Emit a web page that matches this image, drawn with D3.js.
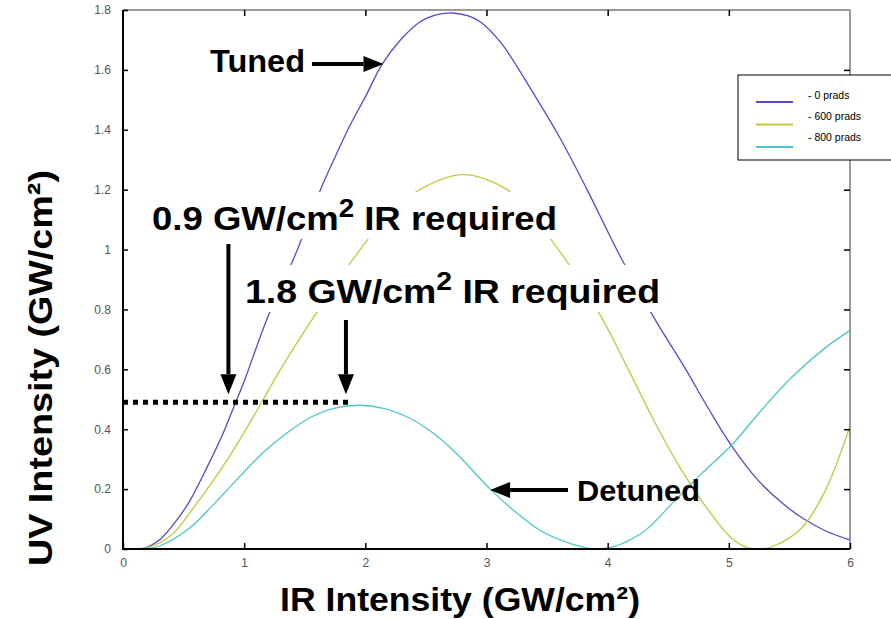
<html>
<head>
<meta charset="utf-8">
<script src="https://d3js.org/d3.v7.min.js"></script>
<style>
  body { margin: 0; background: #fff; font-family: "Liberation Sans", Arial, sans-serif; }
  .tick text { font-size: 12px; fill: #555; font-family: "Liberation Sans", Arial, sans-serif; }
  .tick line { stroke: #000; stroke-width: 1.5px; }
  .curve { fill: none; stroke-width: 1.3px; }
  .note { font-weight: bold; fill: #000; font-family: "Liberation Sans", Arial, sans-serif; }
</style>
</head>
<body>
<script>
// series: [IR intensity, UV intensity]
var prads0 = [[0,0],[0.15,0],[0.3,0.03],[0.45,0.1],[0.55,0.16],[0.69,0.27],[0.83,0.39],[0.91,0.47],
  [1.0,0.56],[1.19,0.77],[1.44,1.0],[1.63,1.2],[1.74,1.3],[1.88,1.42],[2.0,1.51],[2.14,1.62],
  [2.29,1.7],[2.45,1.76],[2.6,1.785],[2.72,1.79],[2.85,1.78],[2.95,1.76],[3.12,1.69],[3.39,1.52],[3.61,1.37],
  [3.83,1.2],[4.1,0.98],[4.4,0.76],[4.63,0.61],[4.83,0.47],[5.03,0.34],[5.24,0.23],[5.45,0.15],
  [5.62,0.1],[5.8,0.06],[6.0,0.03]];
var prads600 = [[0,0],[0.15,0],[0.3,0.02],[0.41,0.05],[0.55,0.12],[0.88,0.31],[1.13,0.48],[1.3,0.6],
  [1.55,0.76],[1.92,0.98],[2.2,1.12],[2.45,1.2],[2.8,1.25],[3.17,1.2],[3.4,1.1],[3.63,0.98],
  [3.94,0.78],[4.17,0.6],[4.38,0.43],[4.6,0.27],[4.83,0.13],[5.04,0.03],[5.2,0],[5.37,0.01],
  [5.6,0.07],[5.79,0.19],[6.0,0.41]];
var prads800 = [[0,0],[0.15,0],[0.3,0.01],[0.55,0.07],[0.75,0.15],[0.97,0.245],[1.15,0.32],[1.36,0.39],
  [1.55,0.44],[1.74,0.47],[1.95,0.48],[2.15,0.47],[2.35,0.44],[2.55,0.39],[2.75,0.32],[3.03,0.2],
  [3.25,0.12],[3.45,0.06],[3.72,0.015],[3.95,0],[4.27,0.05],[4.55,0.16],[4.77,0.25],
  [5.03,0.35],[5.24,0.45],[5.51,0.57],[5.79,0.67],[6.0,0.73]];

var seriesData = [prads0, prads600, prads800];
var legendLabels = ["- 0 prads", "- 600 prads", "- 800 prads"];
var colors = ["#5a48d0", "#c4c83c", "#4cc8c8"];
var xTicks = [0, 1, 2, 3, 4, 5, 6];
var yTicks = [0, 0.2, 0.4, 0.6, 0.8, 1, 1.2, 1.4, 1.6, 1.8];
var yTickLabels = ["0", "0.2", "0.4", "0.6", "0.8", "1", "1.2", "1.4", "1.6", "1.8"];

var svg = d3.select("body").append("svg")
  .attr("width", 891)
  .attr("height", 619);

var x = d3.scaleLinear().domain([0, 6]).range([123, 850]);
var y = d3.scaleLinear().domain([0, 1.8]).range([549, 10]);

svg.append("clipPath").attr("id", "plot")
  .append("rect").attr("x", x(0)).attr("y", y(1.8))
  .attr("width", x(6) - x(0)).attr("height", y(0) - y(1.8));

var line = d3.line()
  .x(function(d) { return x(d[0]); })
  .y(function(d) { return y(d[1]); })
  .curve(d3.curveCatmullRom.alpha(0.5));

svg.append("g").attr("clip-path", "url(#plot)")
  .selectAll(".curve")
  .data(seriesData)
  .enter().append("path")
  .attr("class", "curve")
  .attr("d", line)
  .style("stroke", function(d, i) { return colors[i]; });

// frame: grey top/right, black left/bottom
svg.append("line").attr("x1", x(0)).attr("x2", x(6)).attr("y1", y(1.8)).attr("y2", y(1.8))
  .attr("stroke", "#999").attr("stroke-width", 2);
svg.append("line").attr("x1", x(6)).attr("x2", x(6)).attr("y1", y(1.8)).attr("y2", y(0))
  .attr("stroke", "#999").attr("stroke-width", 2);

svg.append("g")
  .attr("transform", "translate(0," + y(0) + ")")
  .call(d3.axisBottom(x).tickValues(xTicks).tickSize(-6).tickPadding(9).tickFormat(d3.format("d")))
  .call(function(g) { g.select(".domain").remove(); });
svg.append("g")
  .attr("transform", "translate(0," + y(1.8) + ")")
  .call(d3.axisTop(x).tickValues(xTicks.slice(1, 6)).tickSize(-6).tickFormat(""))
  .call(function(g) { g.select(".domain").remove(); });
svg.append("g")
  .attr("transform", "translate(" + x(0) + ",0)")
  .call(d3.axisLeft(y).tickValues(yTicks).tickSize(-5).tickPadding(12)
    .tickFormat(function(d, i) { return yTickLabels[i]; }))
  .call(function(g) { g.select(".domain").remove(); });
svg.append("g")
  .attr("transform", "translate(" + x(6) + ",0)")
  .call(d3.axisRight(y).tickValues(yTicks.slice(1, 9)).tickSize(-6).tickFormat(""))
  .call(function(g) { g.select(".domain").remove(); });

svg.append("line").attr("x1", x(0)).attr("x2", x(0)).attr("y1", y(1.8)).attr("y2", y(0) + 1)
  .attr("stroke", "#000").attr("stroke-width", 2);
svg.append("line").attr("x1", x(0) - 1).attr("x2", x(6)).attr("y1", y(0)).attr("y2", y(0))
  .attr("stroke", "#000").attr("stroke-width", 2);

// axis titles
svg.append("text").attr("class", "note")
  .attr("x", 460).attr("y", 611)
  .attr("text-anchor", "middle")
  .style("font-size", "34px")
  .attr("textLength", 360).attr("lengthAdjust", "spacingAndGlyphs")
  .text("IR Intensity (GW/cm²)");
svg.append("text").attr("class", "note")
  .attr("transform", "translate(52,368) rotate(-90)")
  .attr("text-anchor", "middle")
  .style("font-size", "34px")
  .attr("textLength", 396).attr("lengthAdjust", "spacingAndGlyphs")
  .text("UV Intensity (GW/cm²)");

// annotations
function arrow(x1, y1, x2, y2) {
  var dx = x2 - x1, dy = y2 - y1, len = Math.sqrt(dx * dx + dy * dy);
  var ux = dx / len, uy = dy / len, head = 20, w = 8;
  var bx = x2 - ux * head, by = y2 - uy * head;
  svg.append("line").attr("x1", x1).attr("y1", y1).attr("x2", bx).attr("y2", by)
    .attr("stroke", "#000").attr("stroke-width", 4);
  svg.append("path")
    .attr("d", "M" + x2 + "," + y2 + "L" + (bx - uy * w) + "," + (by + ux * w) +
      "L" + (bx + uy * w) + "," + (by - ux * w) + "Z")
    .attr("fill", "#000");
}

function reqLabel(xs, ys, value, len) {
  var g = svg.append("g");
  var rect = g.append("rect").attr("fill", "#fff");
  var t = g.append("text").attr("class", "note")
    .attr("x", xs).attr("y", ys)
    .style("font-size", "33px")
    .attr("textLength", len).attr("lengthAdjust", "spacingAndGlyphs");
  t.append("tspan").text(value + " GW/cm");
  t.append("tspan").attr("dy", -13).style("font-size", "25px").text("2");
  t.append("tspan").attr("dy", 13).text(" IR required");
  var b = t.node().getBBox();
  rect.attr("x", b.x - 4).attr("y", b.y - 2).attr("width", b.width + 8).attr("height", b.height + 4);
}

// dotted guide at 0.49
svg.append("line")
  .attr("x1", x(0)).attr("x2", x(1.86))
  .attr("y1", y(0.49)).attr("y2", y(0.49))
  .attr("stroke", "#000").attr("stroke-width", 5).attr("stroke-dasharray", "5,5");

reqLabel(152, 230, "0.9", 405);
reqLabel(245, 303, "1.8", 415);

arrow(x(0.87), 244, x(0.87), y(0.49) - 8);
arrow(x(1.84), 320, x(1.84), y(0.49) - 8);

svg.append("text").attr("class", "note")
  .attr("x", 210).attr("y", 72)
  .style("font-size", "31px")
  .attr("textLength", 95).attr("lengthAdjust", "spacingAndGlyphs")
  .text("Tuned");
arrow(312, y(1.62), x(2.15), y(1.62));

svg.append("text").attr("class", "note")
  .attr("x", 577).attr("y", 501)
  .style("font-size", "30px")
  .attr("textLength", 123).attr("lengthAdjust", "spacingAndGlyphs")
  .text("Detuned");
arrow(568, y(0.197), x(3.03), y(0.197));

// legend
var legend = svg.append("g").attr("transform", "translate(738,75)");
legend.append("rect").attr("width", 170).attr("height", 85)
  .attr("fill", "#fff").attr("stroke", "#000").attr("stroke-width", 1);
legendLabels.forEach(function(lab, i) {
  legend.append("line").attr("x1", 18).attr("x2", 55)
    .attr("y1", 27 + i * 22.5).attr("y2", 27 + i * 22.5)
    .attr("stroke", colors[i]).attr("stroke-width", 2);
  legend.append("text").attr("x", 70).attr("y", 24 + i * 21)
    .style("font-size", "10.5px").style("font-family", "Liberation Sans, Arial, sans-serif")
    .text(lab);
});
</script>
</body>
</html>
